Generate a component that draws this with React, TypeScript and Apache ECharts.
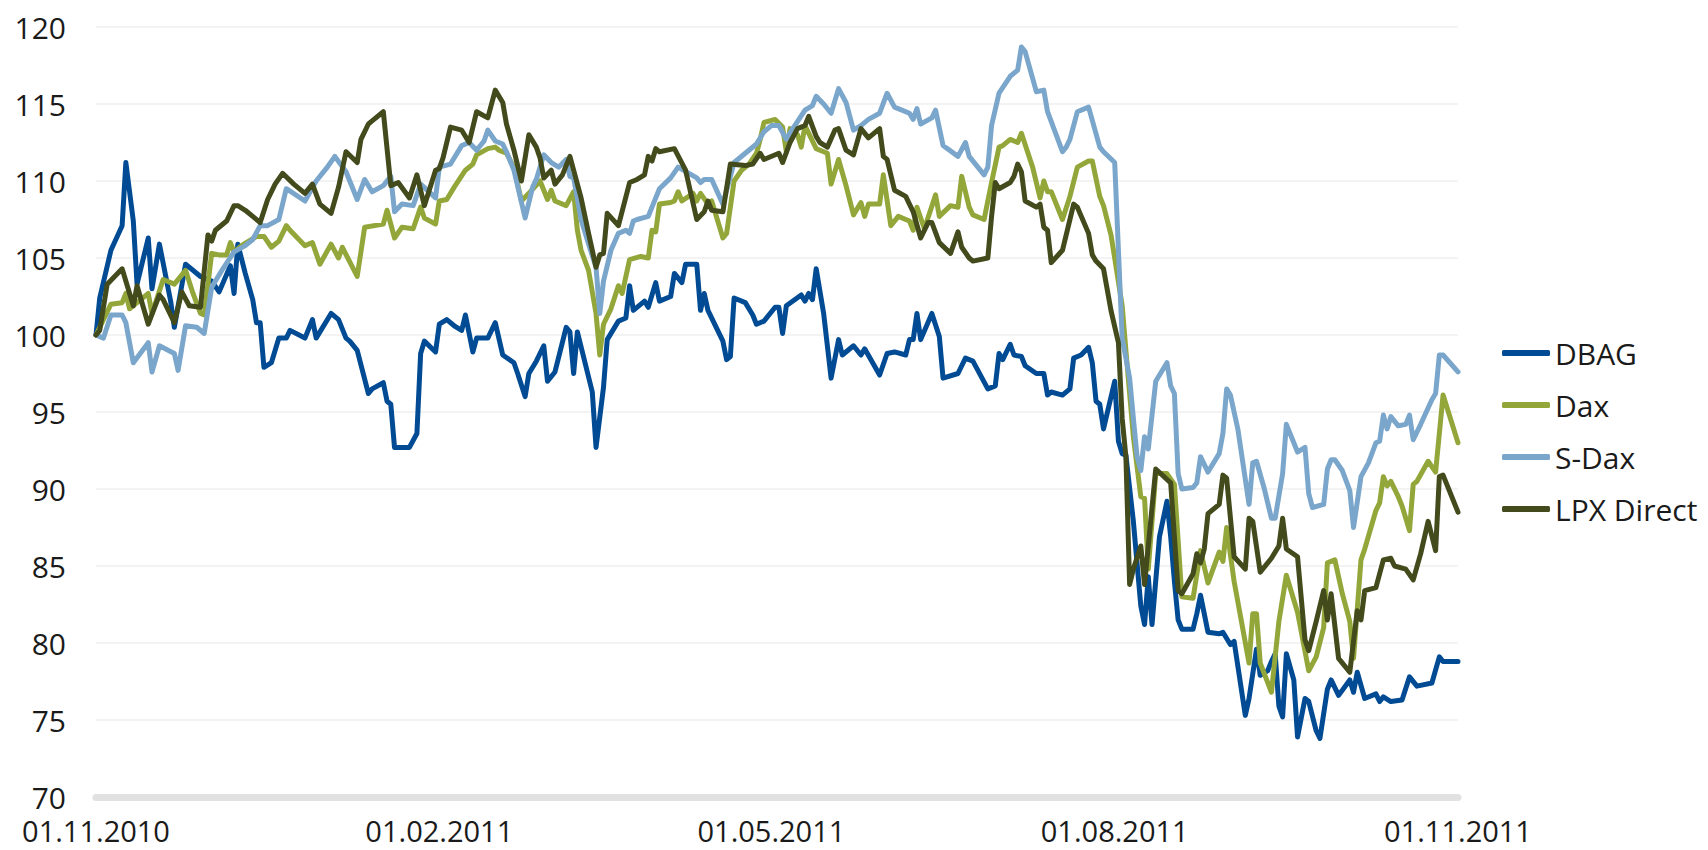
import React, { useEffect, useRef } from "react";
import * as echarts from "echarts";

// x = calendar days since 01.11.2010, y = indexed value (01.11.2010 = 100)
const tickDays = [0, 92, 181, 273, 365];
const tickLabels = ["01.11.2010", "01.02.2011", "01.05.2011", "01.08.2011", "01.11.2011"];
const seriesNames = ["DBAG", "Dax", "S-Dax", "LPX Direct"];
const seriesColors = ["#004b93", "#93a63a", "#7ba6cb", "#434a1b"];

const dbag: number[][] = [[0,100],[1,102.4],[4,105.5],[7,107.1],[8,111.2],[10,107.4],[11,103.3],[14,106.3],[15,103.0],[17,105.9],[20,102.2],[21,100.5],[24,104.6],[28,103.8],[31,103.5],[33,102.8],[36,104.5],[37,102.7],[38,105.9],[40,104.0],[42,102.3],[43,100.8],[44,100.8],[45,97.9],[47,98.2],[49,99.8],[51,99.8],[52,100.3],[56,99.8],[58,101.0],[59,99.8],[63,101.4],[65,101.0],[67,99.8],[68,99.6],[70,99.0],[73,96.2],[74,96.5],[77,96.9],[78,95.7],[79,95.5],[80,92.7],[84,92.7],[86,93.6],[87,98.8],[88,99.6],[91,98.9],[92,100.7],[94,101.0],[96,100.6],[98,100.3],[99,101.3],[101,98.9],[102,99.8],[105,99.8],[107,100.8],[109,98.7],[112,98.2],[113,97.5],[115,96.0],[116,97.5],[118,98.3],[120,99.3],[121,97.0],[123,97.6],[126,100.5],[127,100.2],[128,97.5],[129,100.2],[133,96.3],[134,92.7],[136,96.6],[137,99.7],[140,100.9],[142,101.1],[143,103.2],[144,101.6],[147,102.2],[148,101.8],[150,103.4],[151,102.2],[154,102.5],[155,104.0],[157,103.4],[158,104.6],[161,104.6],[162,101.6],[163,102.7],[164,101.6],[168,99.6],[169,98.4],[170,98.6],[171,102.4],[174,102.1],[176,101.3],[177,100.7],[179,100.9],[182,101.8],[183,101.8],[184,100.1],[185,101.9],[189,102.6],[190,102.2],[191,102.7],[192,102.3],[193,104.3],[195,101.4],[197,97.2],[199,99.7],[200,98.7],[203,99.3],[205,98.7],[206,99.1],[210,97.4],[212,98.8],[214,98.9],[217,98.7],[218,99.7],[219,99.7],[220,101.4],[221,99.7],[224,101.4],[226,99.9],[227,97.2],[231,97.5],[233,98.5],[235,98.3],[239,96.5],[241,96.7],[242,98.8],[243,98.4],[245,99.4],[246,98.7],[248,98.6],[249,98.0],[252,97.5],[254,97.5],[255,96.1],[256,96.3],[259,96.1],[261,96.5],[262,98.5],[264,98.7],[266,99.2],[267,98.2],[268,95.7],[269,95.5],[270,93.9],[273,97.0],[274,93.1],[275,92.3],[276,92.2],[278,87.9],[280,82.4],[281,81.2],[282,84.3],[283,81.2],[285,86.9],[287,89.2],[288,86.9],[289,84.0],[290,81.5],[291,80.9],[294,80.9],[295,81.9],[296,83.1],[298,80.7],[301,80.6],[302,80.7],[304,79.9],[305,80.1],[308,75.3],[309,76.4],[311,79.6],[312,77.9],[314,78.2],[315,78.8],[316,79.3],[317,75.9],[318,75.2],[319,79.3],[321,77.6],[322,73.9],[324,76.4],[325,76.2],[327,74.3],[328,73.8],[330,77.0],[331,77.6],[333,76.6],[336,77.6],[337,76.8],[338,78.1],[340,76.4],[343,76.7],[344,76.2],[345,76.5],[347,76.2],[350,76.3],[352,77.8],[354,77.2],[358,77.4],[360,79.1],[361,78.8],[365,78.8]];

const dax: number[][] = [[0,100],[4,102.0],[7,102.1],[8,102.7],[9,101.7],[14,102.7],[15,101.4],[18,103.6],[21,103.3],[24,104.2],[26,102.7],[28,101.4],[29,101.3],[31,105.3],[33,105.2],[35,105.2],[36,106.0],[37,105.4],[39,105.8],[43,106.4],[45,106.4],[47,105.7],[49,106.1],[51,107.1],[52,106.8],[56,105.8],[58,106.0],[60,104.6],[63,105.9],[65,105.0],[66,105.7],[70,103.8],[72,107.0],[77,107.2],[78,108.1],[80,106.3],[82,107.0],[85,106.9],[87,108.3],[88,107.6],[91,107.2],[92,108.7],[94,108.8],[96,109.6],[99,110.7],[101,111.1],[102,111.7],[105,112.1],[107,112.2],[108,112.0],[110,111.8],[112,110.9],[114,108.7],[116,109.2],[119,110.0],[121,108.8],[122,109.4],[123,108.7],[126,108.4],[128,109.3],[129,106.8],[130,105.5],[132,104.2],[134,101.4],[135,98.7],[136,100.7],[138,101.7],[140,103.2],[141,102.7],[143,104.9],[146,105.1],[148,105.0],[149,106.8],[150,106.7],[151,108.5],[154,108.6],[155,108.7],[156,109.3],[157,108.7],[160,109.2],[161,108.7],[162,109.2],[164,108.5],[165,108.7],[168,106.3],[169,106.6],[171,110.0],[173,110.7],[175,111.1],[177,111.8],[178,112.7],[179,113.8],[182,114.0],[184,113.5],[185,111.9],[186,113.4],[188,113.0],[189,112.2],[190,113.6],[193,112.1],[195,111.9],[196,111.8],[197,109.8],[199,111.4],[201,109.7],[203,107.8],[205,108.6],[206,107.7],[207,108.5],[210,108.5],[211,110.4],[213,107.1],[215,107.7],[218,107.4],[219,106.8],[220,108.3],[222,106.9],[225,109.1],[226,107.7],[229,108.4],[231,108.3],[232,110.3],[234,108.3],[235,107.8],[238,107.5],[240,109.9],[242,112.2],[243,112.3],[245,112.7],[247,112.5],[248,113.1],[251,110.9],[253,108.9],[254,110.0],[255,109.3],[256,109.3],[259,107.5],[261,109.0],[263,110.9],[266,111.3],[267,111.3],[269,109.0],[270,108.4],[272,106.5],[273,105.0],[275,101.9],[276,99.0],[277,96.2],[278,93.4],[280,89.5],[281,89.4],[282,84.8],[284,91.0],[287,91.0],[289,90.3],[291,83.0],[294,82.9],[296,86.0],[298,83.9],[301,85.9],[302,85.3],[303,87.5],[305,84.0],[309,78.7],[310,81.9],[311,81.9],[312,78.7],[315,76.8],[317,81.4],[319,84.4],[322,82.0],[325,78.2],[327,79.1],[329,81.0],[330,85.2],[331,85.3],[332,85.4],[334,83.2],[336,81.4],[337,79.0],[339,85.4],[340,86.1],[343,88.6],[344,89.1],[345,90.8],[346,90.2],[347,90.5],[349,89.5],[350,88.9],[352,87.3],[353,90.3],[354,90.5],[357,91.8],[359,91.1],[361,96.1],[365,93.0]];

const sdax: number[][] = [[0,100],[2,99.8],[4,101.3],[7,101.3],[8,100.8],[10,98.2],[14,99.5],[15,97.6],[17,99.3],[21,98.8],[22,97.7],[24,100.6],[27,100.5],[29,100.1],[31,103.1],[34,104.3],[37,105.4],[40,105.8],[42,106.2],[44,107.1],[46,107.1],[49,107.5],[51,109.5],[56,108.7],[59,110.0],[62,110.9],[64,111.6],[67,110.6],[70,108.8],[72,110.1],[74,109.3],[77,109.7],[79,110.3],[80,108.0],[82,108.5],[85,108.4],[87,109.8],[91,108.9],[92,110.9],[95,111.1],[98,112.3],[100,112.5],[102,112.0],[104,112.6],[105,113.3],[107,112.6],[109,112.4],[110,111.9],[112,110.7],[115,107.6],[117,109.6],[118,110.1],[120,111.7],[122,111.2],[124,110.9],[126,111.4],[127,110.3],[128,110.2],[130,107.5],[132,105.9],[134,104.4],[135,101.4],[136,103.5],[138,105.5],[140,106.6],[142,106.8],[143,106.6],[144,107.4],[145,107.5],[148,107.7],[149,108.3],[151,109.5],[154,110.2],[156,110.9],[161,110.2],[162,109.9],[163,110.1],[165,110.1],[168,108.5],[171,111.2],[174,111.8],[177,112.4],[179,113.2],[181,113.6],[183,113.6],[185,112.7],[187,113.5],[190,114.6],[192,114.9],[193,115.5],[195,115.0],[197,114.4],[199,116.0],[201,115.1],[203,113.3],[205,113.6],[207,114.0],[210,114.4],[212,115.7],[214,114.8],[218,114.4],[219,114.0],[220,114.7],[221,113.7],[224,114.1],[225,114.6],[227,112.3],[231,111.6],[233,112.5],[234,111.6],[236,111.0],[238,110.4],[239,110.9],[240,113.6],[242,115.7],[245,116.8],[247,117.2],[248,118.7],[249,118.4],[252,115.8],[254,115.9],[255,114.5],[259,111.9],[260,112.2],[261,112.7],[263,114.5],[266,114.8],[269,112.2],[270,111.9],[273,111.2],[274,105.5],[275,99.8],[277,97.2],[278,94.6],[279,92.1],[280,91.2],[281,93.4],[282,92.6],[284,97.0],[287,98.2],[288,96.7],[289,96.2],[290,91.0],[291,90.0],[294,90.1],[295,90.4],[296,92.1],[298,91.1],[301,92.3],[302,93.6],[303,96.5],[304,96.1],[306,93.9],[309,89.0],[310,91.7],[311,91.8],[313,90.1],[315,88.1],[316,88.1],[318,91.0],[319,94.2],[322,92.4],[324,92.7],[325,89.7],[326,88.8],[329,89.0],[330,91.3],[331,91.9],[332,91.9],[334,91.2],[336,89.9],[337,87.5],[339,90.8],[341,91.7],[343,93.0],[344,93.1],[345,94.8],[346,93.9],[347,94.7],[349,94.1],[351,94.2],[352,94.8],[353,93.2],[355,94.2],[358,95.8],[359,96.2],[360,98.7],[361,98.7],[365,97.6]];

const lpx: number[][] = [[0,100],[1,100.3],[3,103.3],[7,104.3],[10,101.9],[11,103.2],[14,100.7],[17,102.6],[18,102.3],[21,100.8],[23,102.8],[25,101.9],[28,101.8],[30,106.5],[31,106.1],[32,106.8],[35,107.4],[37,108.4],[38,108.4],[40,108.1],[42,107.7],[44,107.3],[46,108.8],[48,109.8],[50,110.5],[53,109.8],[56,109.2],[58,109.8],[60,108.5],[63,107.9],[65,109.6],[67,111.9],[70,111.2],[71,112.7],[73,113.7],[74,113.9],[77,114.5],[79,109.7],[81,109.9],[84,108.9],[86,110.4],[88,108.4],[91,110.7],[92,110.8],[93,111.5],[95,113.5],[98,113.3],[100,112.5],[102,114.5],[105,114.1],[107,115.9],[109,115.1],[110,113.7],[112,112.0],[114,110.0],[116,113.0],[118,112.2],[119,111.5],[120,110.2],[122,110.7],[123,109.8],[125,110.4],[127,111.6],[130,108.9],[132,106.6],[134,104.4],[135,105.2],[136,105.3],[137,107.9],[140,107.1],[143,109.9],[145,110.1],[147,110.4],[148,111.6],[149,111.3],[150,112.1],[151,111.9],[155,112.1],[158,110.7],[161,107.5],[163,108.0],[164,108.7],[165,108.1],[168,108.0],[170,111.1],[174,111.0],[176,111.1],[178,111.8],[179,111.4],[183,111.8],[184,111.2],[186,112.5],[188,113.4],[190,113.6],[191,114.2],[193,112.9],[194,112.5],[196,112.2],[198,113.3],[199,113.4],[201,112.0],[203,111.7],[205,113.4],[207,112.8],[210,113.4],[211,111.6],[212,111.4],[214,109.4],[217,109.0],[219,108.0],[221,106.3],[223,107.3],[224,107.3],[226,106.0],[229,105.3],[231,106.7],[232,105.7],[234,105.0],[235,104.8],[239,105.0],[240,107.7],[241,109.9],[242,109.5],[245,109.9],[246,110.3],[247,111.1],[248,110.6],[249,108.7],[252,108.3],[253,108.5],[254,107.0],[255,106.8],[256,104.7],[259,105.5],[262,108.5],[263,108.3],[266,106.6],[267,105.2],[268,104.8],[270,104.3],[272,101.6],[274,99.5],[275,94.6],[276,92.1],[277,83.8],[278,84.8],[280,86.3],[281,83.8],[284,91.3],[288,90.4],[290,83.4],[291,83.2],[294,84.5],[295,85.8],[296,85.2],[297,86.1],[298,88.4],[301,89.0],[302,90.9],[303,90.7],[305,85.6],[308,84.8],[309,88.1],[310,87.9],[312,84.6],[315,85.5],[317,86.3],[318,88.1],[319,86.1],[322,85.6],[324,80.2],[325,79.5],[327,81.4],[329,83.4],[330,81.5],[331,83.2],[333,79.0],[336,78.1],[338,82.1],[339,81.5],[340,83.4],[343,83.6],[345,85.4],[347,85.5],[348,85.0],[351,84.8],[353,84.1],[355,85.8],[357,87.9],[359,86.0],[360,90.8],[361,90.9],[365,88.5]];

const seriesData = [dbag, dax, sdax, lpx];

const FONT = "'Open Sans', 'Noto Sans', sans-serif";

export default function App() {
  const ref = useRef<HTMLDivElement>(null);

  useEffect(() => {
    if (!ref.current) return;
    const chart = echarts.init(ref.current, null, { renderer: "svg" });
    chart.setOption({
      animation: false,
      backgroundColor: "#ffffff",
      grid: { left: 96, right: 250, top: 27, bottom: 53, containLabel: false },
      legend: {
        orient: "vertical",
        left: 1497,
        top: 333,
        itemWidth: 48,
        itemHeight: 6,
        itemGap: 22,
        icon: "roundRect",
        data: seriesNames,
        textStyle: { fontSize: 30, color: "#1a1a1a", fontFamily: FONT },
      },
      xAxis: {
        type: "value",
        min: 0,
        max: 365,
        axisLine: { show: true, onZero: false, lineStyle: { color: "#e1e1e1", width: 7 } },
        axisTick: { show: false },
        splitLine: { show: false },
        axisLabel: {
          customValues: tickDays,
          formatter: (v: number) => {
            const i = tickDays.indexOf(Math.round(v));
            return i >= 0 ? tickLabels[i] : "";
          },
          fontSize: 29,
          lineHeight: 28,
          color: "#1a1a1a",
          fontFamily: FONT,
          margin: 19,
        },
      },
      yAxis: {
        type: "value",
        min: 70,
        max: 120,
        interval: 5,
        axisLine: { show: false },
        axisTick: { show: false },
        splitLine: { show: true, lineStyle: { color: "#efefef", width: 1.5 } },
        axisLabel: {
          fontSize: 30,
          lineHeight: 24,
          padding: [0, 0, 5, 0],
          color: "#1a1a1a",
          fontFamily: FONT,
          margin: 30,
        },
      },
      series: seriesNames.map((name, i) => ({
        name,
        type: "line",
        data: seriesData[i],
        showSymbol: false,
        symbol: "none",
        color: seriesColors[i],
        lineStyle: { color: seriesColors[i], width: 5, cap: "round", join: "round" },
        emphasis: { disabled: true },
      })),
    });
    return () => chart.dispose();
  }, []);

  return (
    <div
      ref={ref}
      style={{ position: "absolute", left: 0, top: 0, width: 1708, height: 850 }}
    />
  );
}
